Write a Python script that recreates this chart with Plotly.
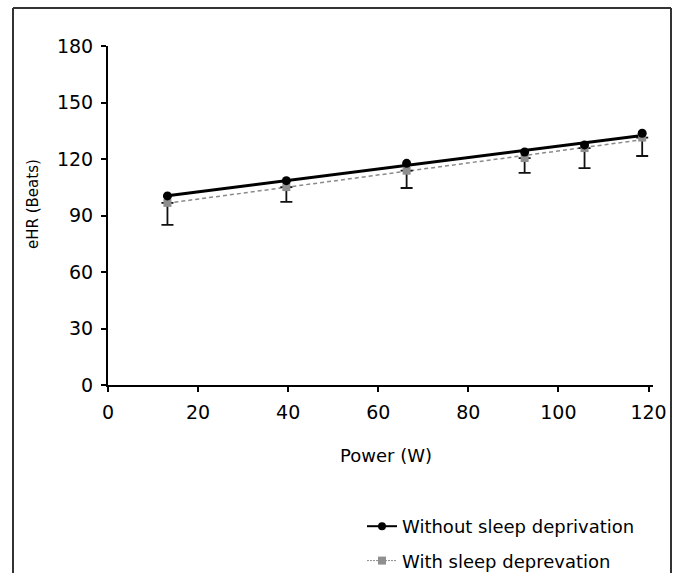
import numpy as np
import plotly.graph_objects as go

# values
power_w = [13.2, 39.6, 66.3, 92.5, 105.8, 118.6]
ehr_without = [100.4, 108.5, 117.7, 123.7, 127.5, 133.7]
ehr_with = [96.7, 105.1, 113.8, 120.5, 125.8, 131.4]
err_minus = [11.7, 7.9, 9.2, 7.9, 10.6, 9.8]

NAME_WITHOUT = "Without sleep deprivation"
NAME_WITH = "With sleep deprevation"
FONT = "DejaVu Sans, Liberation Sans, sans-serif"

x = np.asarray(power_w)
fit_a = np.polyfit(x, ehr_without, 1)
fit_b = np.polyfit(x, ehr_with, 1)

fig = go.Figure()

# linear trendlines
fig.add_trace(go.Scatter(x=x, y=np.polyval(fit_b, x), mode="lines", showlegend=False,
                         line=dict(color="#8a8a8a", width=1.5, dash="4px,3px")))
fig.add_trace(go.Scatter(x=x, y=np.polyval(fit_a, x), mode="lines", showlegend=False,
                         line=dict(color="black", width=3)))

# markers
fig.add_trace(go.Scatter(x=power_w, y=ehr_with, mode="markers", showlegend=False,
                         marker=dict(symbol="square", size=8, color="#8f8f8f"),
                         error_y=dict(type="data", symmetric=False, array=[0] * len(err_minus),
                                      arrayminus=err_minus, color="#111111", thickness=1.8, width=6)))
fig.add_trace(go.Scatter(x=power_w, y=ehr_without, mode="markers", showlegend=False,
                         marker=dict(symbol="circle", size=9, color="black")))

# legend entries
fig.add_trace(go.Scatter(x=[None], y=[None], mode="lines+markers", name=NAME_WITHOUT,
                         legendgroup="a",
                         line=dict(color="black", width=2), marker=dict(size=8, color="black")))
fig.add_trace(go.Scatter(x=[None], y=[None], mode="lines+markers", name=NAME_WITH,
                         legendgroup="b",
                         line=dict(color="#8a8a8a", width=1, dash="2px,1px"),
                         marker=dict(symbol="square", size=8, color="#8f8f8f")))

L, R, T, B = 108, 26, 46, 188
W, H = 679, 573
pw = W - L - R
ph = H - T - B

def px(v):
    return (v - L) / pw

def py(v):
    return (H - B - v) / ph

frame = dict(type="line", xref="paper", yref="paper", line=dict(color="#333333", width=2))

fig.update_layout(
    width=W, height=H,
    margin=dict(l=L, r=R, t=T, b=B, autoexpand=False),
    paper_bgcolor="white", plot_bgcolor="white",
    font=dict(family=FONT, color="black", size=19),
    legend=dict(x=px(362), y=py(508), xanchor="left", yanchor="top",
                font=dict(size=18), traceorder="grouped", tracegroupgap=8,
                bgcolor="rgba(0,0,0,0)"),
    shapes=[
        dict(frame, x0=px(13), x1=px(13), y0=py(H), y1=py(8)),
        dict(frame, x0=px(13), x1=px(671), y0=py(8), y1=py(8)),
        dict(frame, x0=px(671), x1=px(671), y0=py(H), y1=py(8)),
    ],
    annotations=[
        dict(text="Power (W)", x=px(386), y=py(455), xref="paper", yref="paper",
             xanchor="center", yanchor="middle", showarrow=False, font=dict(size=18)),
        dict(text="eHR (Beats)", x=px(33), y=py(204), xref="paper", yref="paper",
             xanchor="center", yanchor="middle", showarrow=False, textangle=-90,
             font=dict(size=15)),
    ],
)

fig.update_xaxes(range=[0, 121], tickvals=[0, 20, 40, 60, 80, 100, 120],
                 showgrid=False, zeroline=False, showline=True, linecolor="black", linewidth=2,
                 ticks="outside", ticklen=5, tickwidth=1.5, tickcolor="black",
                 ticklabelstandoff=4)
fig.update_yaxes(range=[0, 180], tickvals=[0, 30, 60, 90, 120, 150, 180],
                 showgrid=False, zeroline=False, showline=True, linecolor="black", linewidth=2,
                 ticks="outside", ticklen=5, tickwidth=1.5, tickcolor="black",
                 ticklabelstandoff=4)

fig.write_html("out.html", config={"displayModeBar": False},
               post_script="document.body.style.margin='0';document.body.style.overflow='hidden';")
